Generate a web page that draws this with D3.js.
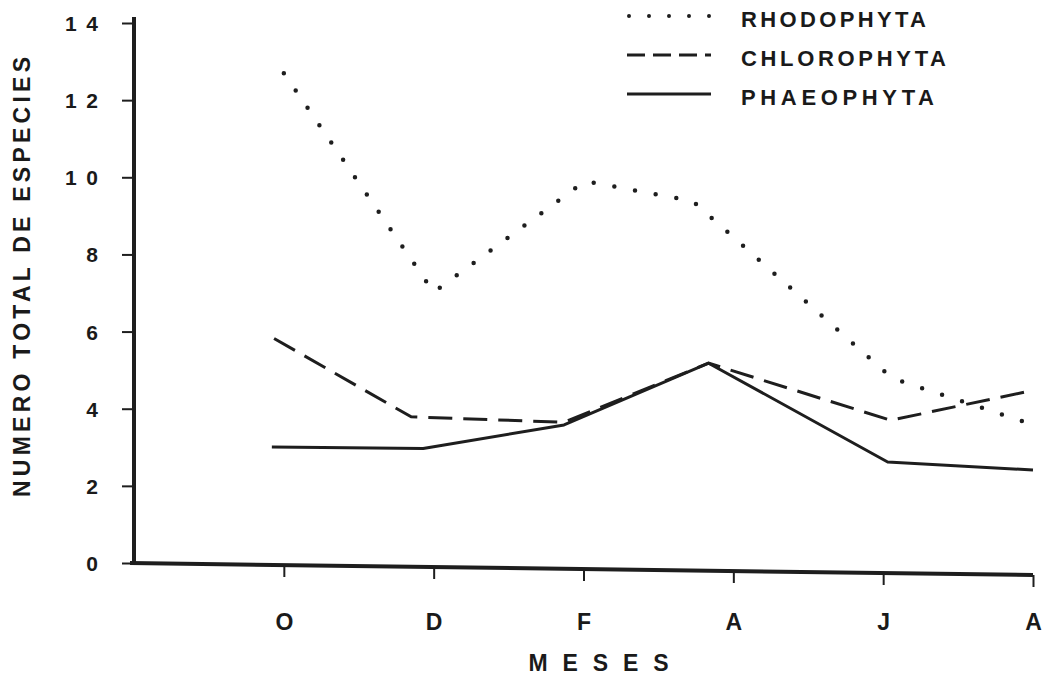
<!DOCTYPE html>
<html>
<head>
<meta charset="utf-8">
<script src="https://cdn.jsdelivr.net/npm/d3@7"></script>
<style>
  html, body { margin: 0; padding: 0; background: #fff; }
  svg { display: block; }
  text { font-family: "Liberation Sans", "DejaVu Sans", sans-serif; fill: #1a1a1a; }
</style>
</head>
<body>
<svg id="chart" width="1044" height="677"></svg>
<script>
// ---- data (month index: O=0, D=2, F=4, A=6, J=8, A=10) ----
const monthLabels = ["O", "D", "F", "A", "J", "A"];
const monthTicks = [0, 2, 4, 6, 8, 10];
const yTicks = [0, 2, 4, 6, 8, 10, 12, 14];
const yTickLabels = ["0", "2", "4", "6", "8", "10", "12", "14"];

const rhodoMonth = [0, 2, 4.02, 5.46, 8.12, 9.93];
const rhodoValue = [12.7, 7.02, 9.9, 9.38, 4.79, 3.63];

const chloroMonth = [-0.13, 1.70, 3.74, 5.67, 8.10, 9.96];
const chloroValue = [5.82, 3.79, 3.65, 5.18, 3.70, 4.46];

const phaeoMonth = [-0.16, 1.86, 3.74, 5.67, 8.06, 10.0];
const phaeoValue = [3.01, 2.97, 3.58, 5.18, 2.62, 2.41];

const seriesNames = ["RHODOPHYTA", "CHLOROPHYTA", "PHAEOPHYTA"];

// ---- layout ----
const svg = d3.select("#chart");
const ink = "#1e1e1e";
const x = d3.scaleLinear().domain([-2, 10]).range([134, 1033]);
const y = d3.scaleLinear().domain([0, 14]).range([563, 23]);

// y axis
const yAxis = svg.append("g")
  .attr("transform", `translate(${x(-2)},0)`)
  .call(d3.axisLeft(y).tickValues(yTicks)
    .tickFormat((d, i) => yTickLabels[i]).tickSize(12).tickPadding(24));
yAxis.select(".domain").attr("stroke", ink).attr("stroke-width", 4)
  .attr("d", `M0,${y(0)}V${y(14) - 6}`);
yAxis.selectAll(".tick line").attr("stroke", ink).attr("stroke-width", 2);
yAxis.selectAll(".tick text").attr("font-size", 21).attr("fill", ink)
  .attr("font-weight", "bold").attr("dy", "0.36em")
  .each(function () {
    const t = d3.select(this);
    if (t.text().length > 1) t.attr("textLength", 33).attr("lengthAdjust", "spacing");
  });

// x axis (slightly tilted base line as in the original)
const tilt = 12 / 900;
const xAxis = svg.append("g")
  .attr("transform", `translate(0,${y(0)})`)
  .call(d3.axisBottom(x).tickValues(monthTicks)
    .tickFormat((d, i) => monthLabels[i]).tickSize(12).tickPadding(39));
xAxis.select(".domain").attr("stroke", ink).attr("stroke-width", 4)
  .attr("d", `M${x(-2) - 4},0L${x(10)},${(x(10) - x(-2)) * tilt}`);
xAxis.selectAll(".tick line").attr("stroke", ink).attr("stroke-width", 2)
  .attr("transform", d => `translate(0,${(x(d) - x(-2)) * tilt})`);
xAxis.selectAll(".tick text").attr("font-size", 23).attr("fill", ink)
  .attr("font-weight", "bold");

// axis titles
svg.append("text")
  .attr("transform", `translate(30,${(y(0) + y(14)) / 2 - 16}) rotate(-90)`)
  .attr("text-anchor", "middle")
  .attr("font-size", 23).attr("font-weight", "bold")
  .attr("textLength", 440).attr("lengthAdjust", "spacing")
  .text("NUMERO TOTAL DE ESPECIES");

svg.append("text")
  .attr("x", x(4.2)).attr("y", 671)
  .attr("text-anchor", "middle")
  .attr("font-size", 23).attr("font-weight", "bold")
  .attr("textLength", 140).attr("lengthAdjust", "spacing")
  .text("MESES");

// series lines
const line = d3.line().x(d => x(d[0])).y(d => y(d[1]));
const zip = (a, b) => a.map((v, i) => [v, b[i]]);

svg.append("path").datum(zip(phaeoMonth, phaeoValue))
  .attr("d", line).attr("fill", "none").attr("stroke", ink)
  .attr("stroke-width", 3).attr("stroke-linejoin", "round");

svg.append("path").datum(zip(chloroMonth, chloroValue))
  .attr("d", line).attr("fill", "none").attr("stroke", ink)
  .attr("stroke-width", 3).attr("stroke-dasharray", "24 11");

svg.append("path").datum(zip(rhodoMonth, rhodoValue))
  .attr("d", line).attr("fill", "none").attr("stroke", ink)
  .attr("stroke-width", 4.5).attr("stroke-linecap", "round")
  .attr("stroke-dasharray", "0 21");

// legend
const legendStyles = [
  { dash: "0 20", cap: "round", w: 4 },
  { dash: "18 8", cap: "butt", w: 3 },
  { dash: null, cap: "butt", w: 3 }
];
const legendLens = [185, 205, 193];
const legendRow = d3.scaleBand().domain(seriesNames).range([0, 117]);
const lg = svg.append("g").attr("transform", "translate(627,0)");
seriesNames.forEach((name, i) => {
  const cy = legendRow(name) + 19;
  const st = legendStyles[i];
  const l = lg.append("line").attr("x1", i === 0 ? 2 : 0).attr("x2", 84)
    .attr("y1", cy - 3).attr("y2", cy - 3)
    .attr("stroke", ink).attr("stroke-width", st.w).attr("stroke-linecap", st.cap);
  if (st.dash) l.attr("stroke-dasharray", st.dash);
  lg.append("text").attr("x", 114).attr("y", cy).attr("dy", "0.35em")
    .attr("font-size", 22).attr("font-weight", "bold")
    .attr("textLength", legendLens[i]).attr("lengthAdjust", "spacing")
    .text(name);
});
</script>
</body>
</html>
